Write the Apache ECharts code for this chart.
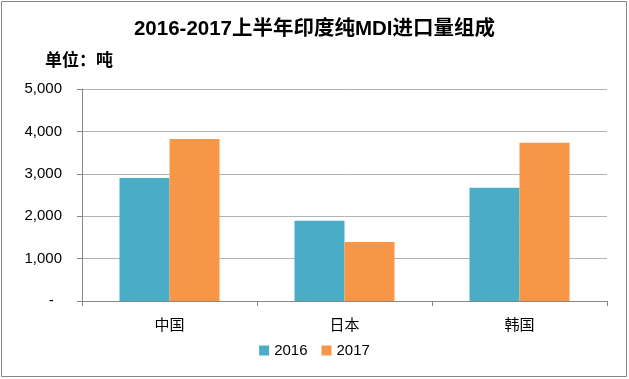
<!DOCTYPE html>
<html><head><meta charset="utf-8">
<script src="https://cdn.jsdelivr.net/npm/echarts@6/dist/echarts.min.js"></script>
<style>html,body{margin:0;padding:0;background:#fff}#c{width:629px;height:379px}</style>
</head><body><div id="c"></div>
<script>
const categories = ['中国', '日本', '韩国'];
const seriesNames = ['2016', '2017'];
const values2016 = [2900, 1890, 2670];
const values2017 = [3820, 1390, 3730];
const yMin = 0, yMax = 5000, yStep = 1000;

const chart = echarts.init(document.getElementById('c'));
const labelFont = '"Liberation Sans", "Noto Sans CJK SC", sans-serif';
chart.setOption({
  animation: false,
  backgroundColor: '#fff',
  title: {
    text: '2016-2017上半年印度纯MDI进口量组成',
    left: 'center', top: 14,
    textStyle: { fontSize: 20.5, fontWeight: 'bold', color: '#000', fontFamily: labelFont }
  },
  graphic: [
    { type: 'rect', shape: { x: 1.5, y: 1.5, width: 625, height: 375 }, style: { fill: 'none', stroke: '#868686', lineWidth: 1 } },
    { type: 'text', left: 45, top: 51, style: { text: '单位：吨', font: 'bold 17px "Noto Sans CJK SC", sans-serif', fill: '#000' } }
  ],
  legend: {
    data: seriesNames, bottom: 16, left: 'center',
    itemWidth: 10, itemHeight: 10, itemGap: 14, icon: 'rect',
    textStyle: { fontSize: 15, color: '#000', fontFamily: labelFont }
  },
  grid: { left: 82, right: 22, top: 89, bottom: 78 },
  xAxis: {
    type: 'category', data: categories,
    axisLine: { lineStyle: { color: '#868686' } },
    axisTick: { show: true, length: 5, lineStyle: { color: '#868686' } },
    axisLabel: { fontSize: 15, color: '#000', margin: 16, fontFamily: '"Noto Sans CJK SC", sans-serif' }
  },
  yAxis: {
    type: 'value', min: yMin, max: yMax, interval: yStep,
    axisLine: { show: true, lineStyle: { color: '#868686' } },
    axisTick: { show: true, length: 5, lineStyle: { color: '#868686' } },
    splitLine: { lineStyle: { color: '#b3b3b3' } },
    axisLabel: {
      fontSize: 15, color: '#000', margin: 20, fontFamily: labelFont,
      formatter: v => v === 0 ? '-  ' : v.toLocaleString('en-US')
    }
  },
  series: [
    { name: seriesNames[0], type: 'bar', data: values2016, barWidth: 50, barGap: '0%', itemStyle: { color: '#4BACC6' } },
    { name: seriesNames[1], type: 'bar', data: values2017, barWidth: 50, barGap: '0%', itemStyle: { color: '#F79646' } }
  ]
});
</script></body></html>
